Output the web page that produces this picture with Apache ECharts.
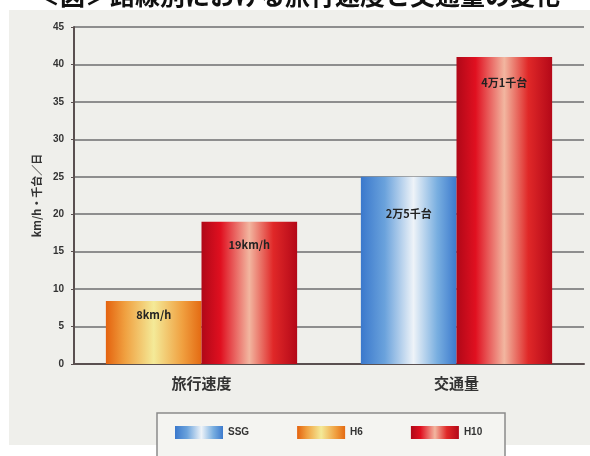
<!DOCTYPE html>
<html><head><meta charset="utf-8">
<script src="https://cdn.jsdelivr.net/npm/echarts@6/dist/echarts.min.js"></script>
<style>html,body{margin:0;padding:0;background:#fff}#c{width:590px;height:456px}</style>
</head><body><div id="c"></div>
<script>
const titleText = '＜図＞路線別における旅行速度と交通量の変化';
const categories = ['旅行速度', '交通量'];
const seriesNames = ['SSG', 'H6', 'H10'];
const ssgValues = ['-', 25];
const h6Values = [8.4, '-'];
const h10Values = [19, 41];
const ssgLabels = ['', '2万5千台'];
const h6Labels = ['8km/h', ''];
const h10Labels = ['19km/h', '4万1千台'];
const yAxisName = 'km/h・千台／日';
const yTicks = [0, 5, 10, 15, 20, 25, 30, 35, 40, 45];

function grad(stops) {
  return {type: 'linear', x: 0, y: 0, x2: 1, y2: 0,
    colorStops: stops.map(s => ({offset: s[0], color: s[1]}))};
}
const blueG = grad([[0,'#3a78cc'],[0.25,'#6aa2dc'],[0.55,'#eef3f8'],[0.8,'#78aee0'],[1,'#3c7acd']]);
const orangeG = grad([[0,'#e4620e'],[0.2,'#f0a040'],[0.5,'#f4ea98'],[0.8,'#f0a040'],[1,'#e46a12']]);
const redG = grad([[0,'#b00818'],[0.2,'#e01020'],[0.5,'#f2b6a0'],[0.75,'#e02828'],[1,'#b40818']]);

const labelDist = {'8km/h': 8, '19km/h': 18, '2万5千台': 32, '4万1千台': 20};
function items(vals, labels) {
  return vals.map((v, i) => ({
    value: v,
    label: {show: !!labels[i], formatter: labels[i], position: 'insideTop',
      distance: labelDist[labels[i]] || 8, fontSize: 11, fontWeight: 'bold',
      color: '#222', fontFamily: 'Noto Sans CJK JP'}
  }));
}

const chart = echarts.init(document.getElementById('c'));
chart.setOption({
  animation: false,
  backgroundColor: '#ffffff',
  graphic: [
    {type: 'rect', z: -10, shape: {x: 9, y: 10, width: 581, height: 435}, style: {fill: '#efefeb'}},
    {type: 'rect', z: -9, shape: {x: 157, y: 413, width: 348, height: 50}, style: {fill: '#f4f4f1', stroke: '#8a8a8a', lineWidth: 1.5}}
  ],
  title: {text: titleText, left: 30, top: -22,
    textStyle: {fontSize: 25, fontWeight: 'bold', color: '#111', fontFamily: 'Noto Sans CJK JP'}},
  legend: {data: seriesNames, left: 170, top: 421, itemWidth: 48, itemHeight: 13, itemGap: 48,
    icon: 'rect', textStyle: {fontSize: 10, color: '#333', fontWeight: 'bold'}},
  grid: {left: 74, right: 6, top: 27, bottom: 92},
  xAxis: {type: 'category', data: categories,
    axisLine: {lineStyle: {color: '#5a5050', width: 2}},
    axisTick: {show: false},
    axisLabel: {fontSize: 15, fontWeight: 'bold', color: '#333', margin: 12, fontFamily: 'Noto Sans CJK JP'}},
  yAxis: {type: 'value', min: 0, max: 45, interval: 5,
    name: yAxisName, nameLocation: 'middle', nameGap: 32, nameRotate: 90,
    nameTextStyle: {fontSize: 11, fontWeight: 'bold', color: '#333', fontFamily: 'Noto Sans CJK JP'},
    axisLine: {show: true, lineStyle: {color: '#5a5050', width: 2}},
    axisTick: {show: true, length: 3, lineStyle: {color: '#5a5050'}},
    axisLabel: {fontSize: 10, fontWeight: 'bold', color: '#333', margin: 10,
      formatter: v => yTicks.includes(v) ? String(v) : ''},
    splitLine: {lineStyle: {color: '#8e8e8e', width: 2}}},
  series: [
    {name: 'SSG', type: 'bar', stack: 'a', data: items(ssgValues, ssgLabels), itemStyle: {color: blueG},
      barCategoryGap: '25%', barGap: '0%'},
    {name: 'H6', type: 'bar', stack: 'a', data: items(h6Values, h6Labels), itemStyle: {color: orangeG},
      barCategoryGap: '25%', barGap: '0%'},
    {name: 'H10', type: 'bar', stack: 'b', data: items(h10Values, h10Labels), itemStyle: {color: redG},
      barCategoryGap: '25%', barGap: '0%'}
  ]
});
</script></body></html>
